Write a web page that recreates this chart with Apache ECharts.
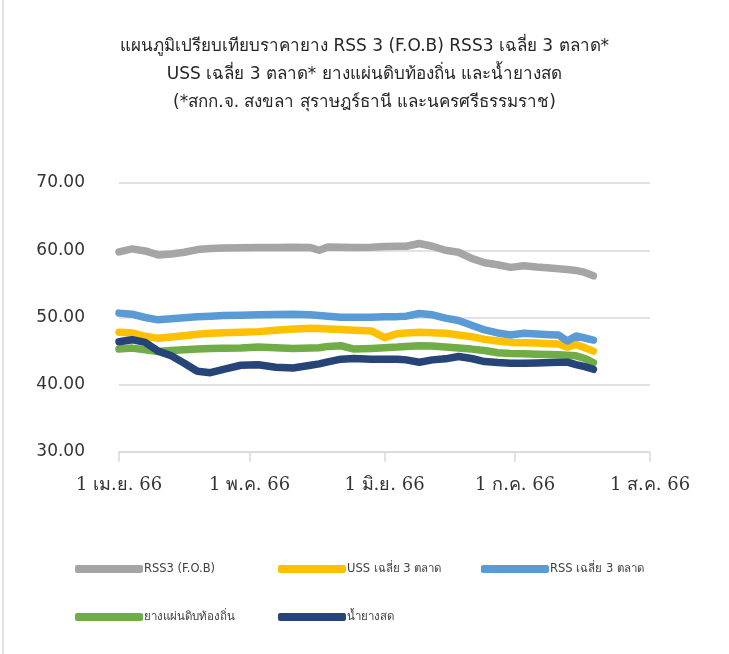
<!DOCTYPE html>
<html>
<head>
<meta charset="utf-8">
<script src="https://cdn.jsdelivr.net/npm/echarts@6/dist/echarts.min.js"></script>
<style>
html,body{margin:0;padding:0;background:#fff;}
#chart{width:729px;height:654px;}
</style>
</head>
<body>
<div id="chart"></div>
<script>
// Days offset from 1 Apr 2023 (2566 B.E.)
const dayOffsets = [0,3,6,9,12,15,18,21,24,28,32,36,40,44,46,48,51,54,58,61,64,66,69,72,75,78,81,84,87,90,93,96,99,101,103,105,107,109];

const seriesNames = ['RSS3 (F.O.B)', 'USS เฉลี่ย 3 ตลาด', 'RSS เฉลี่ย 3 ตลาด', 'ยางแผ่นดิบท้องถิ่น', 'น้ำยางสด'];

const rss3Fob = [59.75,60.2,59.9,59.3,59.45,59.7,60.1,60.25,60.35,60.38,60.4,60.42,60.45,60.4,60.0,60.5,60.45,60.4,60.45,60.55,60.6,60.6,61.0,60.6,60.0,59.7,58.8,58.15,57.85,57.45,57.7,57.5,57.35,57.25,57.15,57.0,56.7,56.2];
const ussAvg = [47.8,47.7,47.2,46.9,47.1,47.3,47.5,47.65,47.75,47.8,47.9,48.1,48.3,48.4,48.35,48.3,48.2,48.1,48.0,47.0,47.6,47.7,47.8,47.75,47.65,47.4,47.15,46.75,46.5,46.3,46.25,46.2,46.1,46.05,45.6,46.0,45.5,45.0];
const rssAvg = [50.65,50.5,50.0,49.65,49.8,49.95,50.1,50.2,50.28,50.35,50.4,50.45,50.5,50.4,50.3,50.2,50.05,50.04,50.04,50.1,50.13,50.2,50.6,50.4,49.9,49.55,48.85,48.15,47.7,47.4,47.65,47.55,47.45,47.4,46.5,47.25,46.95,46.65];
const localSheet = [45.3,45.45,45.2,44.95,45.1,45.2,45.3,45.4,45.42,45.45,45.6,45.5,45.4,45.45,45.5,45.7,45.8,45.3,45.4,45.5,45.6,45.7,45.8,45.75,45.6,45.45,45.3,45.1,44.75,44.65,44.6,44.55,44.5,44.45,44.4,44.3,43.9,43.3];
const freshLatex = [46.4,46.7,46.3,45.0,44.3,43.2,42.0,41.8,42.3,42.9,42.97,42.6,42.5,42.9,43.1,43.4,43.8,43.9,43.8,43.8,43.8,43.7,43.35,43.7,43.85,44.2,43.9,43.45,43.3,43.2,43.2,43.25,43.3,43.35,43.35,43.0,42.7,42.3];

// Month starts as day offsets from 1 Apr 2023: 1 Apr, 1 May, 1 Jun, 1 Jul, 1 Aug
const tickDays = [0,30,61,91,122];
const tickLabels = ['1 เม.ย. 66','1 พ.ค. 66','1 มิ.ย. 66','1 ก.ค. 66','1 ส.ค. 66'];
const yTicks = [30,40,50,60,70];

const titleLines = [
  'แผนภูมิเปรียบเทียบราคายาง RSS 3 (F.O.B) RSS3 เฉลี่ย 3 ตลาด*',
  'USS เฉลี่ย 3 ตลาด* ยางแผ่นดิบท้องถิ่น และน้ำยางสด',
  '(*สกก.จ. สงขลา สุราษฎร์ธานี และนครศรีธรรมราช)'
];

const colors = ['#A5A5A5','#FFC000','#5B9BD5','#70AD47','#264478'];
const dataArrays = [rss3Fob, ussAvg, rssAvg, localSheet, freshLatex];

const chart = echarts.init(document.getElementById('chart'));
const series = seriesNames.map((name,i) => ({
  name: name,
  type: 'line',
  showSymbol: false,
  symbol: 'none',
  smooth: false,
  lineStyle: {width: 7.5, color: colors[i], cap: 'round', join: 'round'},
  itemStyle: {color: colors[i]},
  data: dayOffsets.map((d,k) => [d, dataArrays[i][k]])
}));

const legendPos = [[70,558],[273,558],[476,558],[70,606],[273,606]];
const legends = seriesNames.map((name,i) => ({
  data: [name],
  left: legendPos[i][0],
  top: legendPos[i][1],
  icon: 'roundRect',
  itemWidth: 68,
  itemHeight: 8,
  itemGap: 2,
  textStyle: {fontFamily: 'DejaVu Sans, Noto Sans, sans-serif', fontSize: 11.5, color: '#404040', padding: [0,0,0,-4]},
  selectedMode: false
}));

chart.setOption({
  animation: false,
  backgroundColor: '#fff',
  title: titleLines.map((t,i) => ({
    text: t,
    left: 'center',
    top: 33 + i*28,
    textStyle: {fontFamily: 'DejaVu Sans, Noto Sans, sans-serif', fontSize: 17, fontWeight: 'normal', color: '#262626'}
  })),
  legend: legends,
  grid: {left: 119, right: 79, top: 183, bottom: 202, containLabel: false},
  xAxis: {
    type: 'value',
    min: tickDays[0],
    max: tickDays[tickDays.length-1],
    axisLine: {show: true, lineStyle: {color: '#D9D9D9', width: 1.5}},
    axisTick: {show: true, length: 10, lineStyle: {color: '#D9D9D9', width: 1.5}, customValues: tickDays},
    splitLine: {show: false},
    axisLabel: {
      customValues: tickDays,
      margin: 24,
      fontFamily: 'DejaVu Serif, Liberation Serif, serif',
      fontSize: 18,
      color: '#333333',
      formatter: function(v){
        const idx = tickDays.indexOf(Math.round(v));
        return idx >= 0 ? tickLabels[idx] : '';
      }
    }
  },
  yAxis: {
    type: 'value',
    min: yTicks[0],
    max: yTicks[yTicks.length-1],
    interval: 10,
    axisLine: {show: false},
    axisTick: {show: false},
    splitLine: {lineStyle: {color: '#D9D9D9', width: 1.5}},
    axisLabel: {
      margin: 34,
      fontFamily: 'DejaVu Sans, Noto Sans, sans-serif',
      fontSize: 17,
      color: '#333333',
      padding: [0,0,6,0],
      formatter: v => v.toFixed(2)
    }
  },
  graphic: [{
    type: 'line',
    shape: {x1: 3, y1: 0, x2: 3, y2: 654},
    style: {stroke: '#D9D9D9', lineWidth: 1.5}
  }],
  series: series
});
</script>
</body>
</html>
